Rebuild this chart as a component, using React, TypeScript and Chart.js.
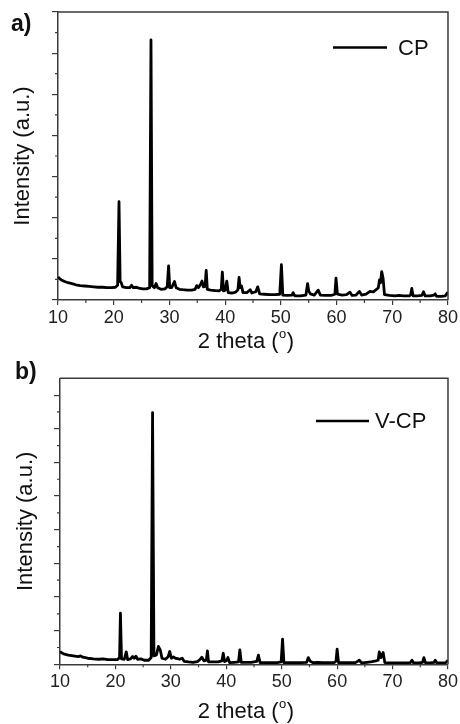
import { useEffect, useRef } from "react";
import { Chart, registerables } from "chart.js";

Chart.register(...registerables);

// ---------- data ----------
const thetaA = [
  10.0, 10.3, 10.7, 11.2, 11.8, 12.5, 13.2, 14.0, 14.8, 15.6, 16.4, 17.2, 18.0, 18.8, 19.6, 20.3, 20.7, 20.95, 21.15, 21.35,
  21.6, 22.3, 22.9, 23.2, 23.5, 24.1, 24.5, 25.2, 25.9, 26.45, 26.69, 26.9, 27.3, 27.6, 27.9, 28.5, 29.2, 29.6, 29.85, 30.05,
  30.4, 30.9, 31.2, 31.8, 32.4, 33.2, 34.0, 34.6, 34.9, 35.2, 35.6, 35.85, 36.1, 36.4, 36.6, 36.8, 37.4, 38.2, 38.9, 39.3,
  39.5, 39.7, 40.0, 40.3, 40.55, 41.2, 41.9, 42.3, 42.5, 42.7, 42.95, 43.2, 43.9, 44.5, 44.8, 45.5, 45.85, 46.2, 47.0, 48.0,
  49.0, 49.8, 50.1, 50.35, 51.2, 52.0, 52.2, 52.5, 53.5, 54.5, 54.8, 55.0, 55.3, 56.0, 56.7, 57.1, 58.0, 59.0, 59.7, 59.9,
  60.15, 61.0, 61.8, 62.4, 62.8, 63.5, 64.1, 64.5, 65.3, 66.0, 66.6, 67.1, 67.5, 67.7, 67.9, 68.1, 68.35, 68.6, 69.5, 70.5,
  71.2, 72.0, 73.0, 73.3, 73.5, 73.75, 74.5, 75.3, 75.6, 75.9, 76.8, 77.5, 77.7, 77.95, 78.8, 79.5, 80.0,
];
const intensityA = [
  0.56, 0.52, 0.48, 0.45, 0.42, 0.40, 0.37, 0.35, 0.34, 0.33, 0.32, 0.31, 0.31, 0.30, 0.30, 0.31, 0.36, 2.39, 0.45, 0.42,
  0.32, 0.30, 0.30, 0.36, 0.30, 0.31, 0.29, 0.27, 0.27, 0.30, 6.32, 0.35, 0.30, 0.40, 0.30, 0.26, 0.27, 0.32, 0.83, 0.30,
  0.30, 0.45, 0.30, 0.26, 0.25, 0.24, 0.24, 0.26, 0.35, 0.30, 0.38, 0.46, 0.32, 0.33, 0.72, 0.26, 0.24, 0.23, 0.22, 0.26,
  0.68, 0.22, 0.24, 0.46, 0.18, 0.17, 0.19, 0.25, 0.55, 0.30, 0.34, 0.18, 0.18, 0.25, 0.17, 0.20, 0.32, 0.15, 0.14, 0.13,
  0.13, 0.14, 0.86, 0.12, 0.11, 0.12, 0.18, 0.10, 0.10, 0.12, 0.40, 0.22, 0.15, 0.12, 0.24, 0.12, 0.11, 0.11, 0.14, 0.53,
  0.14, 0.12, 0.13, 0.19, 0.11, 0.12, 0.21, 0.12, 0.14, 0.21, 0.20, 0.25, 0.30, 0.49, 0.42, 0.69, 0.53, 0.13, 0.11, 0.10,
  0.11, 0.10, 0.10, 0.12, 0.28, 0.10, 0.10, 0.11, 0.20, 0.10, 0.10, 0.12, 0.15, 0.09, 0.09, 0.10, 0.19,
];

const thetaB = [
  10.0, 10.3, 10.8, 11.5, 12.4, 13.3, 13.7, 14.1, 15.0, 16.0, 17.0, 17.8, 18.6, 19.5, 20.4, 20.75, 20.9, 21.1, 21.6, 21.95,
  22.2, 22.7, 23.1, 23.4, 23.7, 24.0, 24.6, 25.2, 26.0, 26.45, 26.7, 26.95, 27.4, 27.75, 28.1, 28.4, 29.0, 29.5, 29.8, 30.1,
  30.5, 30.8, 31.2, 31.6, 32.05, 32.4, 33.2, 34.0, 34.8, 35.3, 35.6, 36.0, 36.4, 36.6, 36.8, 37.6, 38.5, 39.2, 39.45, 39.7,
  40.1, 40.3, 40.6, 41.5, 42.2, 42.45, 42.7, 43.5, 44.5, 45.5, 45.8, 46.1, 47.0, 48.2, 49.2, 49.9, 50.15, 50.4, 51.5, 52.5,
  53.5, 54.5, 54.8, 55.1, 55.6, 56.5, 57.5, 58.5, 59.5, 59.8, 60.0, 60.25, 61.2, 62.3, 63.3, 64.0, 64.4, 65.4, 66.3, 67.0,
  67.4, 67.6, 67.9, 68.3, 68.6, 69.5, 70.5, 71.5, 72.5, 73.2, 73.5, 73.8, 74.8, 75.4, 75.65, 75.95, 76.8, 77.5, 77.7, 78.0,
  79.0, 79.6, 80.0,
];
const intensityB = [
  0.38, 0.34, 0.30, 0.27, 0.25, 0.23, 0.25, 0.21, 0.18, 0.16, 0.15, 0.16, 0.14, 0.14, 0.14, 0.20, 1.52, 0.16, 0.15, 0.37,
  0.14, 0.16, 0.23, 0.18, 0.24, 0.15, 0.16, 0.12, 0.12, 0.20, 7.48, 0.25, 0.28, 0.53, 0.42, 0.18, 0.15, 0.22, 0.38, 0.18,
  0.22, 0.18, 0.17, 0.15, 0.18, 0.09, 0.07, 0.06, 0.08, 0.15, 0.21, 0.10, 0.12, 0.40, 0.07, 0.07, 0.07, 0.10, 0.33, 0.08,
  0.12, 0.20, 0.05, 0.06, 0.07, 0.43, 0.06, 0.06, 0.06, 0.09, 0.27, 0.05, 0.05, 0.05, 0.05, 0.07, 0.75, 0.05, 0.05, 0.05,
  0.05, 0.06, 0.20, 0.10, 0.05, 0.06, 0.05, 0.05, 0.05, 0.10, 0.45, 0.05, 0.05, 0.05, 0.05, 0.12, 0.04, 0.06, 0.08, 0.10,
  0.12, 0.37, 0.20, 0.35, 0.05, 0.04, 0.04, 0.04, 0.04, 0.05, 0.12, 0.04, 0.04, 0.06, 0.20, 0.04, 0.04, 0.06, 0.12, 0.04,
  0.04, 0.05, 0.12,
];

const seriesNames = ["CP", "V-CP"];
const panelNames = ["a)", "b)"];
const xTickLabels = [10, 20, 30, 40, 50, 60, 70, 80];
const xMinorTicks = [15, 25, 35, 45, 55, 65, 75];
const yAxisTitle = "Intensity (a.u.)";
const xAxisTitleMain = "2 theta (";
const xAxisTitleSup = "o";
const xAxisTitleEnd = ")";

// ---------- layout ----------
const FONT = "'Liberation Sans', Arial, sans-serif";
const INK = "#111";
const AXIS = "#3a3a3a";

type Geo = {
  top: number; width: number; height: number;
  left: number; right: number; areaTop: number; bottom: number;
  yMax: number;
  yTitleX: number; xTitleX: number; xTitleBase: number;
  legLine: [number, number]; legY: number; legTextX: number;
  panelX: number; panelY: number;
};

const geoA: Geo = {
  top: 0, width: 460, height: 355,
  left: 58, right: 448, areaTop: 12, bottom: 300,
  yMax: 7,
  yTitleX: 23, xTitleX: 246, xTitleBase: 348,
  legLine: [333, 387], legY: 47.5, legTextX: 398,
  panelX: 11, panelY: 25,
};
const geoB: Geo = {
  top: 355, width: 460, height: 369,
  left: 60, right: 451, areaTop: 23.3, bottom: 309.3,
  yMax: 8.5,
  yTitleX: 26, xTitleX: 246, xTitleBase: 363,
  legLine: [316, 369], legY: 66, legTextX: 375,
  panelX: 15, panelY: 17.5,
};

function Panel({ theta, intensity, name, panel, geo }: {
  theta: number[]; intensity: number[]; name: string; panel: string; geo: Geo;
}) {
  const ref = useRef<HTMLCanvasElement | null>(null);
  useEffect(() => {
    if (!ref.current) return;
    const points = theta.map((x, i) => ({ x, y: intensity[i] }));
    const decor = {
      id: "decor",
      afterDraw(chart: any) {
        const ctx = chart.ctx as CanvasRenderingContext2D;
        const a = chart.chartArea;
        const xs = chart.scales.x;
        const ys = chart.scales.y;
        ctx.save();
        // frame top / right
        ctx.strokeStyle = AXIS;
        ctx.lineWidth = 1.5;
        ctx.beginPath();
        ctx.moveTo(a.left, a.top);
        ctx.lineTo(a.right, a.top);
        ctx.lineTo(a.right, a.bottom);
        ctx.stroke();
        // minor ticks
        ctx.lineWidth = 1.2;
        ctx.beginPath();
        xMinorTicks.forEach((v) => {
          const px = xs.getPixelForValue(v);
          ctx.moveTo(px, a.bottom);
          ctx.lineTo(px, a.bottom + 3);
        });
        for (let v = 0.5; v < geo.yMax; v += 1) {
          const py = ys.getPixelForValue(v);
          ctx.moveTo(a.left, py);
          ctx.lineTo(a.left - 3, py);
        }
        ctx.stroke();
        // y title
        ctx.fillStyle = INK;
        ctx.font = `22px ${FONT}`;
        ctx.textAlign = "center";
        ctx.textBaseline = "middle";
        ctx.save();
        ctx.translate(geo.yTitleX, (a.top + a.bottom) / 2);
        ctx.rotate(-Math.PI / 2);
        ctx.fillText(yAxisTitle, 0, 0);
        ctx.restore();
        // x title with superscript
        ctx.textAlign = "left";
        ctx.textBaseline = "alphabetic";
        ctx.font = `22px ${FONT}`;
        const w1 = ctx.measureText(xAxisTitleMain).width;
        const w3 = ctx.measureText(xAxisTitleEnd).width;
        ctx.font = `13px ${FONT}`;
        const w2 = ctx.measureText(xAxisTitleSup).width;
        const total = w1 + w2 + w3 + 1;
        let sx = geo.xTitleX - total / 2;
        ctx.font = `22px ${FONT}`;
        ctx.fillText(xAxisTitleMain, sx, geo.xTitleBase);
        sx += w1;
        ctx.font = `13px ${FONT}`;
        ctx.fillText(xAxisTitleSup, sx + 0.5, geo.xTitleBase - 10);
        sx += w2 + 1;
        ctx.font = `22px ${FONT}`;
        ctx.fillText(xAxisTitleEnd, sx, geo.xTitleBase);
        // legend
        ctx.strokeStyle = "#000";
        ctx.lineWidth = 2.5;
        ctx.beginPath();
        ctx.moveTo(geo.legLine[0], geo.legY);
        ctx.lineTo(geo.legLine[1], geo.legY);
        ctx.stroke();
        ctx.textBaseline = "middle";
        ctx.font = `22px ${FONT}`;
        ctx.fillText(name, geo.legTextX, geo.legY + 1);
        // panel label
        ctx.font = `bold 23px ${FONT}`;
        ctx.fillText(panel, geo.panelX, geo.panelY);
        ctx.restore();
      },
    };
    const chart = new Chart(ref.current, {
      type: "line",
      data: {
        datasets: [{
          label: name,
          data: points,
          borderColor: "#000",
          borderWidth: 2.8,
          pointRadius: 0,
          tension: 0,
          fill: false,
          borderJoinStyle: "round",
        }],
      },
      options: {
        responsive: false,
        animation: false,
        devicePixelRatio: 1,
        layout: { padding: { top: geo.areaTop, right: geo.width - geo.right, left: 0, bottom: 0 } },
        plugins: { legend: { display: false }, tooltip: { enabled: false } },
        scales: {
          x: {
            type: "linear",
            min: 10,
            max: 80,
            afterFit: (s: any) => { s.height = geo.height - geo.bottom; },
            afterBuildTicks: (s: any) => { s.ticks = xTickLabels.map((v) => ({ value: v })); },
            ticks: {
              stepSize: 10,
              padding: 2,
              color: "#222",
              font: { family: FONT, size: 18 },
              maxRotation: 0,
              callback: (v: any) => String(v),
            },
            grid: { drawOnChartArea: false, drawTicks: true, tickLength: 5, color: AXIS, lineWidth: 1.2 },
            border: { display: true, color: AXIS, width: 1.5 },
          },
          y: {
            type: "linear",
            min: 0,
            max: geo.yMax,
            afterFit: (s: any) => { s.width = geo.left; },
            ticks: { stepSize: 1, display: false, includeBounds: false },
            grid: { drawOnChartArea: false, drawTicks: true, tickLength: 6, color: AXIS, lineWidth: 1.2 },
            border: { display: true, color: AXIS, width: 1.5 },
          },
        },
      },
      plugins: [decor],
    } as any);
    return () => chart.destroy();
  }, [theta, intensity, name, panel, geo]);
  return (
    <canvas
      ref={ref}
      width={geo.width}
      height={geo.height}
      style={{ position: "absolute", left: 0, top: geo.top, width: geo.width, height: geo.height, display: "block" }}
    />
  );
}

export default function App() {
  return (
    <div style={{ position: "absolute", left: 0, top: 0, width: 460, height: 724, background: "#fff", overflow: "hidden" }}>
      <Panel theta={thetaA} intensity={intensityA} name={seriesNames[0]} panel={panelNames[0]} geo={geoA} />
      <Panel theta={thetaB} intensity={intensityB} name={seriesNames[1]} panel={panelNames[1]} geo={geoB} />
    </div>
  );
}
